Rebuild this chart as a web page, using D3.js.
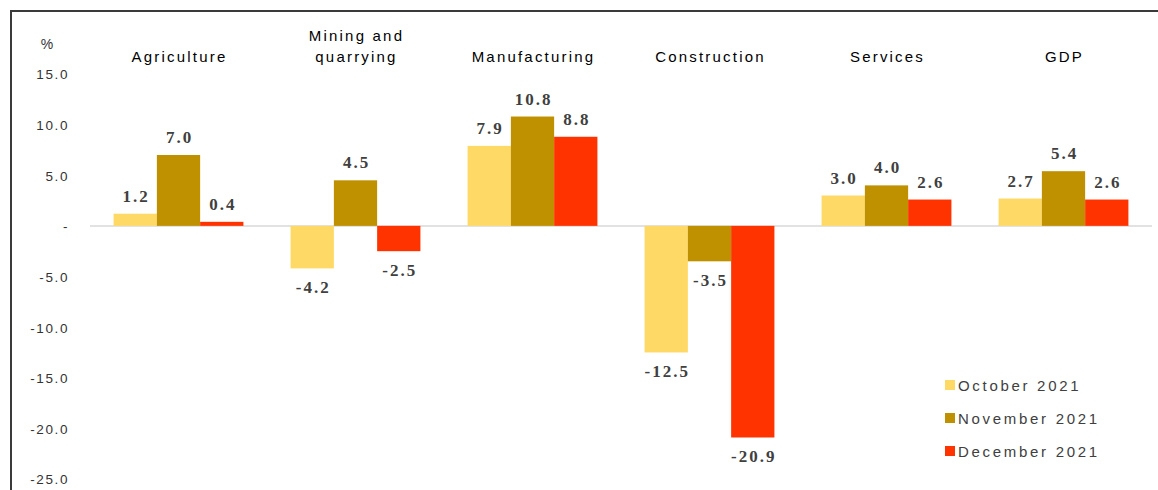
<!DOCTYPE html>
<html>
<head>
<meta charset="utf-8">
<script src="https://cdn.jsdelivr.net/npm/d3@7"></script>
<style>
  html, body { margin: 0; padding: 0; background: #fff; }
  svg { display: block; }
</style>
</head>
<body>
<svg id="chart" width="1158" height="490"></svg>
<script>
// Sector growth, % change
const categories = [["Agriculture"], ["Mining and", "quarrying"], ["Manufacturing"], ["Construction"], ["Services"], ["GDP"]];
const seriesNames = ["October 2021", "November 2021", "December 2021"];
const october = [1.2, -4.2, 7.9, -12.5, 3.0, 2.7];
const november = [7.0, 4.5, 10.8, -3.5, 4.0, 5.4];
const december = [0.4, -2.5, 8.8, -20.9, 2.6, 2.6];
const tickValues = [15, 10, 5, 0, -5, -10, -15, -20, -25];
const colors = ["#FFD966", "#BF9000", "#FF3300"];

const seriesValues = [october, november, december];
const svg = d3.select("#chart");

// frame
svg.append("path")
  .attr("d", "M11,490 L11,11 L1158,11")
  .attr("fill", "none")
  .attr("stroke", "#3a3a3a")
  .attr("stroke-width", 2);

const x = d3.scaleBand()
  .domain(d3.range(categories.length))
  .range([90, 1152]);

const xs = d3.scaleBand()
  .domain(d3.range(seriesNames.length))
  .range([0, x.bandwidth()])
  .paddingOuter(0.545);

const y = d3.scaleLinear().domain([-25, 15]).range([479, 74]);

// y axis labels
const yAxis = d3.axisLeft(y)
  .tickValues(tickValues)
  .tickSize(0)
  .tickPadding(0)
  .tickFormat(d => d === 0 ? "-" : d.toFixed(1));

const ax = svg.append("g")
  .attr("transform", "translate(69,0)")
  .call(yAxis);
ax.select(".domain").remove();
ax.selectAll("text")
  .attr("font-family", "Liberation Sans, Arial, sans-serif")
  .attr("font-size", 13.5)
  .attr("letter-spacing", "1.6px")
  .attr("fill", "#333")
  .attr("dy", "0.36em");

svg.append("text")
  .attr("x", 47).attr("y", 49)
  .attr("text-anchor", "middle")
  .attr("font-family", "Liberation Sans, Arial, sans-serif")
  .attr("font-size", 14)
  .attr("fill", "#333")
  .text("%");

// zero line
svg.append("line")
  .attr("x1", 90).attr("x2", 1152)
  .attr("y1", y(0)).attr("y2", y(0))
  .attr("stroke", "#d9d9d9")
  .attr("stroke-width", 1.5);

// category labels
const catG = svg.append("g");
categories.forEach((lines, i) => {
  const t = catG.append("text")
    .attr("x", x(i) + x.bandwidth() / 2 + 1)
    .attr("text-anchor", "middle")
    .attr("font-family", "Liberation Sans, Arial, sans-serif")
    .attr("font-size", 15)
    .attr("letter-spacing", "2.2px")
    .attr("fill", "#000");
  const base = 62 - (lines.length - 1) * 21;
  lines.forEach((ln, k) => {
    t.append("tspan")
      .attr("x", x(i) + x.bandwidth() / 2 + 1)
      .attr("y", base + k * 21)
      .text(ln);
  });
});

// bars
seriesValues.forEach((vals, s) => {
  const g = svg.append("g");
  g.selectAll("rect")
    .data(vals)
    .join("rect")
    .attr("x", (d, i) => x(i) + xs(s))
    .attr("width", xs.bandwidth())
    .attr("y", d => y(Math.max(0, d)))
    .attr("height", d => Math.abs(y(d) - y(0)))
    .attr("fill", colors[s]);

  g.selectAll("text")
    .data(vals)
    .join("text")
    .attr("x", (d, i) => x(i) + xs(s) + xs.bandwidth() / 2 + 1)
    .attr("y", d => d >= 0 ? y(d) - 12 : y(d) + 25)
    .attr("text-anchor", "middle")
    .attr("font-family", "Liberation Serif, Times New Roman, serif")
    .attr("font-weight", "bold")
    .attr("font-size", 17)
    .attr("letter-spacing", "2px")
    .attr("fill", "#404040")
    .text(d => d.toFixed(1));
});

// legend
const legend = svg.append("g");
seriesNames.forEach((name, s) => {
  const ly = 385 + s * 33;
  legend.append("rect")
    .attr("x", 945).attr("y", ly - 5)
    .attr("width", 10).attr("height", 10)
    .attr("fill", colors[s]);
  legend.append("text")
    .attr("x", 958).attr("y", ly + 5.5)
    .attr("font-family", "Liberation Sans, Arial, sans-serif")
    .attr("font-size", 15)
    .attr("letter-spacing", "2.7px")
    .attr("fill", "#404040")
    .text(name);
});
</script>
</body>
</html>
